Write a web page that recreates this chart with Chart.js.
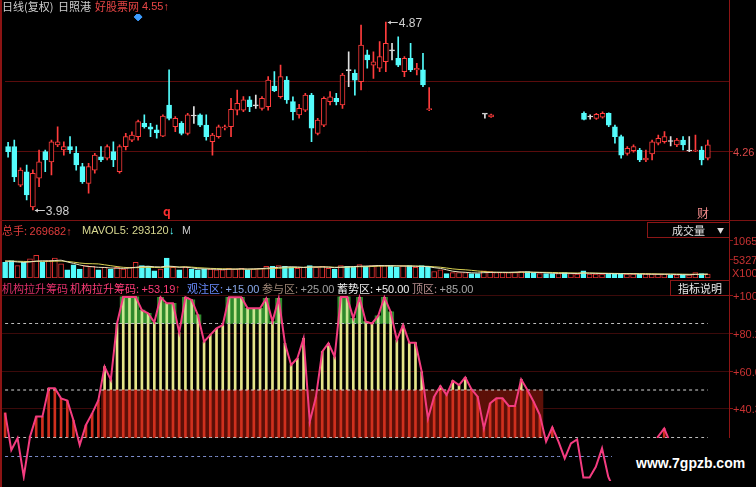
<!DOCTYPE html>
<html><head><meta charset="utf-8">
<script src="https://cdn.jsdelivr.net/npm/chart.js@4.4.1/dist/chart.umd.min.js"></script>
<style>
html,body{margin:0;padding:0;background:#000;width:756px;height:487px;overflow:hidden;}
#wrap{position:relative;width:756px;height:487px;background:#000;overflow:hidden;}
canvas{position:absolute;left:0;top:0;}
.t{position:absolute;white-space:nowrap;font-size:11px;font-family:"Noto Sans CJK SC","Liberation Sans",sans-serif;line-height:12px;}
.n{font-family:"Liberation Sans",Arial,sans-serif;}
.box{position:absolute;border:1px solid #8c1616;box-sizing:border-box;}
</style></head><body>
<div id="wrap">
<canvas id="cPrice" width="756" height="487"></canvas>
<canvas id="cVol" width="756" height="487"></canvas>
<canvas id="cInd" width="756" height="487"></canvas>

<div style="position:absolute;left:0;top:0;width:2px;height:487px;background:#8c1414"></div>
<div style="position:absolute;left:729px;top:0;width:1px;height:438px;background:#8c1414"></div>
<div style="position:absolute;left:0;top:220px;width:756px;height:1px;background:#7a1212"></div>

<div class="t" style="left:2px;top:0px;color:#cfcfcf">日线(复权)</div>
<div class="t" style="left:58px;top:0px;color:#cfcfcf">日照港</div>
<div class="t" style="left:95px;top:0px;color:#e84646">好股票网</div>
<div class="t n" style="left:142px;top:0px;color:#e84646">4.55↑</div>

<div class="t" style="left:163px;top:205px;color:#ff3030;font-weight:bold;font-size:12px">q</div>
<div class="t" style="left:697px;top:207px;color:#f08a8a;font-size:12px">财</div>

<div class="t" style="left:2px;top:224px;color:#e03c3c">总手: <span class="n">269682↑</span></div>
<div class="t n" style="left:82px;top:224px;color:#d8d890">MAVOL5: 293120</div>
<div class="t n" style="left:169px;top:224px;color:#54fcfc">↓</div>
<div class="t n" style="left:182px;top:224px;color:#d0d0d0;width:8px;overflow:hidden">MA</div>

<div class="box" style="left:647px;top:222px;width:83px;height:16px"></div>
<div class="t" style="left:672px;top:224px;color:#e0e0e0">成交量</div>
<div class="t" style="left:717px;top:226px;color:#e0e0e0;font-size:7px;line-height:8px">▼</div>
<div class="t n" style="left:732px;top:267px;color:#c83232">X100</div>

<div class="t" style="left:2px;top:282px;color:#e0306a">机构拉升筹码</div>
<div class="t" style="left:70px;top:282px;color:#ff3c78">机构拉升筹码: <span class="n">+53.19</span></div>
<div class="t n" style="left:175px;top:282px;color:#ff3030">↑</div>
<div class="t" style="left:187px;top:282px;color:#6a8cff">观注区: <span class="n" style="color:#88a8e8">+15.00</span></div>
<div class="t" style="left:262px;top:282px;color:#a08878">参与区: <span class="n" style="color:#a0a0a0">+25.00</span></div>
<div class="t" style="left:337px;top:282px;color:#f0f0f0">蓄势区: <span class="n">+50.00</span></div>
<div class="t" style="left:412px;top:282px;color:#b89090">顶区: <span class="n" style="color:#a8a8a8">+85.00</span></div>

<div class="box" style="left:670px;top:280px;width:60px;height:16px"></div>
<div class="t" style="left:678px;top:282px;color:#e8e8e8">指标说明</div>

<div style="position:absolute;left:612px;top:438px;width:144px;height:49px;background:#000"></div>
<div class="t n" style="left:636px;top:456px;color:#ffffff;font-weight:bold;font-size:14px;line-height:15px">www.7gpzb.com</div>
</div>

<script>
// ---------- DATA ----------
const days = Array.from({length:117}, (_, i) => String(i + 1));

const open  = [4.28,4.28,4.098,4.161,3.995,4.13,4.256,4.208,4.288,4.264,
 4.28,4.248,4.185,4.106,4.169,4.232,4.225,4.256,4.161,4.28,
 4.311,4.327,4.39,4.374,4.359,4.33,4.477,4.374,4.39,4.343,
 4.425,4.43,4.382,4.303,4.327,4.368,4.374,4.453,4.453,4.501,
 4.473,4.461,4.469,4.567,4.516,4.595,4.493,4.43,4.453,4.524,
 4.343,4.382,4.493,4.509,4.477,4.64,4.627,4.587,4.714,4.666,
 4.651,4.682,4.733,4.698,4.635,4.698,4.643,4.643,4.455,null,
 null,null,null,null,null,null,null,4.434,4.42,null,
 null,null,null,null,null,null,null,null,null,null,
 null,null,null,4.438,4.42,4.414,4.419,4.438,4.374,4.327,
 4.248,4.261,4.264,4.217,4.245,4.296,4.303,4.304,4.288,4.311,
 4.259,4.259,4.264,4.225];
const high  = [4.30,4.311,4.18,4.193,4.17,4.264,4.264,4.311,4.374,4.303,
 4.327,4.28,4.201,4.201,4.248,4.28,4.288,4.303,4.288,4.343,
 4.35,4.406,4.43,4.39,4.382,4.43,4.643,4.422,4.398,4.438,
 4.469,4.435,4.43,4.343,4.382,4.382,4.509,4.548,4.517,4.517,
 4.524,4.517,4.611,4.635,4.666,4.611,4.516,4.48,4.532,4.532,
 4.414,4.516,4.54,4.532,4.627,4.729,4.643,4.856,4.737,4.729,
 4.777,4.87,4.769,4.80,4.706,4.769,4.674,4.722,4.56,null,
 null,null,null,null,null,null,null,4.434,4.434,null,
 null,null,null,null,null,null,null,null,null,null,
 null,null,null,4.445,4.43,4.438,4.445,4.44,4.382,4.335,
 4.28,4.288,4.272,4.264,4.311,4.335,4.351,4.327,4.319,4.327,
 4.327,4.335,4.28,4.311];
const low   = [4.23,4.114,4.09,4.027,3.98,4.09,4.161,4.146,4.28,4.24,
 4.248,4.169,4.106,4.059,4.154,4.209,4.217,4.185,4.154,4.264,
 4.303,4.311,4.367,4.327,4.32,4.327,4.406,4.351,4.335,4.335,
 4.39,4.374,4.311,4.24,4.32,4.359,4.327,4.43,4.445,4.445,
 4.461,4.453,4.453,4.54,4.509,4.485,4.406,4.415,4.445,4.303,
 4.335,4.374,4.477,4.477,4.461,4.564,4.524,4.548,4.651,4.603,
 4.635,4.635,4.69,4.658,4.611,4.635,4.619,4.564,4.45,null,
 null,null,null,null,null,null,null,4.415,4.418,null,
 null,null,null,null,null,null,null,null,null,null,
 null,null,null,4.406,4.41,4.409,4.415,4.374,4.296,4.225,
 4.24,4.254,4.209,4.209,4.217,4.288,4.296,4.283,4.28,4.264,
 4.256,4.256,4.193,4.217];
const close = [4.256,4.137,4.169,4.051,4.154,4.208,4.217,4.303,4.303,4.28,
 4.264,4.193,4.114,4.185,4.24,4.217,4.28,4.217,4.28,4.327,
 4.335,4.398,4.374,4.362,4.346,4.425,4.414,4.414,4.343,4.43,
 4.425,4.382,4.327,4.335,4.374,4.374,4.457,4.485,4.501,4.469,
 4.473,4.509,4.595,4.545,4.611,4.501,4.445,4.461,4.524,4.367,
 4.406,4.509,4.516,4.493,4.619,4.64,4.595,4.761,4.69,4.682,
 4.706,4.769,4.733,4.666,4.698,4.643,4.651,4.572,4.46,null,
 null,null,null,null,null,null,null,4.434,4.43,null,
 null,null,null,null,null,null,null,null,null,null,
 null,null,null,4.409,4.42,4.433,4.438,4.382,4.327,4.24,
 4.272,4.28,4.217,4.226,4.303,4.319,4.327,4.304,4.311,4.288,
 4.259,4.264,4.217,4.288];

// volume in units of 100 lots (X100)
const volume = [4406,4896,3456,4406,5386,6336,4406,4896,5558,3946,
 2304,3658,2506,3456,3254,2304,2966,2506,2966,2506,
 2966,4406,3456,3254,2016,2506,5558,2966,2304,2966,
 2506,2304,2506,2506,2304,2304,2678,2506,2678,2304,
 2506,2678,3254,3254,3456,3254,3000,2678,2966,3456,
 2966,3254,2678,2506,3456,3254,3000,3746,3254,3456,
 3456,3456,3456,2966,3456,3456,2966,3456,3100,1814,
 2300,1238,1526,1526,1526,1238,1238,2016,1814,1526,
 1526,1526,1526,1814,1814,1526,1238,1238,1238,1238,
 1526,1238,1066,2016,1066,1066,1066,1238,1238,1238,
 1066,1066,1066,1066,1066,1066,1066,864,864,864,
 864,1526,1238,1066];
const volDir = "dduduuduuu" + "ddduududuu" + "uudddududu" + "ddduuuuuud" + "uuududduud" +
  "uuududdudu" + "uuddududdu" + "uduuudduuu" + "uuuudduddu" + "duuduuuddd" + "uuduuuudud" + "uudu";
const mavol5 = [4700,4650,4500,4400,4500,4750,4800,4800,4900,5000,
 4500,4100,3650,3300,3150,3000,2950,2800,2750,2700,
 2800,3000,3200,3300,3150,3100,3350,3250,3000,3050,
 2850,2600,2550,2500,2450,2400,2450,2500,2550,2500,
 2550,2600,2750,2850,3000,3100,3150,3100,2950,3100,
 3100,3100,3050,2900,3050,3100,3200,3300,3350,3400,
 3500,3450,3450,3400,3350,3350,3300,3250,3200,2900,
 2700,2300,1900,1700,1600,1450,1400,1500,1550,1600,
 1620,1600,1650,1700,1700,1600,1550,1450,1350,1300,
 1330,1300,1250,1400,1350,1300,1250,1250,1200,1200,
 1180,1150,1120,1080,1060,1060,1060,1050,990,930,
 900,1000,1050,1100];
const mavol10 = [4800,4750,4700,4650,4600,4650,4700,4650,4700,4750,
 4650,4450,4200,4050,4000,3950,3700,3450,3200,3000,
 2900,2900,2950,3000,2950,2900,3050,3100,3100,3150,
 3050,2900,2800,2700,2650,2600,2550,2500,2500,2470,
 2480,2520,2580,2650,2730,2830,2900,2950,3000,3050,
 3080,3100,3100,3020,3000,3070,3130,3180,3170,3220,
 3300,3350,3380,3380,3380,3380,3350,3300,3280,3150,
 3020,2800,2550,2400,2300,2150,1960,1820,1680,1600,
 1530,1500,1550,1600,1620,1610,1600,1580,1550,1500,
 1460,1420,1400,1420,1400,1380,1350,1320,1290,1260,
 1250,1250,1230,1220,1180,1140,1100,1100,1100,1080,
 1040,1050,1030,1040];

// 机构拉升筹码 indicator
const signal = [38,18.4,24.7,4.4,25.4,36,36,50.9,50.9,45.6,
 44.4,34,21,31.6,37.7,44.7,62.3,55.3,85,99,
 99,99,92,90.4,85.6,98.8,95.6,95.6,80.2,98.8,
 97.4,89.5,75.4,79,82.5,84.2,98.8,98.8,98.8,93,
 93,93,98.2,86,98.2,74.6,63.2,66.7,77.2,33.3,
 46.5,70.2,74.6,67.5,99,99,87.7,98.8,86,85,
 89,98.8,91.2,76.3,84.2,74.9,74.9,59.6,35,46.5,
 52.1,47.4,54.9,52.6,56.7,50.4,46.5,29.8,43,45.6,
 45.6,41.6,41.6,55.6,50,43.8,36.8,22.8,30.4,22.8,
 14,21.9,24,4,4,9.6,19.3,4.4,-3,-6,
 -4,-8,-5,-2,12,25.4,29.8,22,-2,-6,
 -4,-7,-3,-5];
const accumZone = "0000000000000000" + "1".repeat(71) + "0".repeat(27);
const zoneLevels = [15, 25, 50, 85];   // 观注区 参与区 蓄势区 顶区

const priceGrid = [4.59, 4.26];
const priceTicks = [4.26];
const volTicks = [10654, 5327];
const volTickLabels = ['1065', '5327'];
const indTicks = [100, 80.2, 60.0, 40.3];
const indTickLabels = ['+100', '+80.2', '+60.0', '+40.3'];
const highMark = {index: 61, label: '4.87'};
const lowMark = {index: 4, label: '3.98'};
const diamondIdx = 21, diamondPrice = 4.894;

// ---------- STYLE ----------
const RED = '#ff3c3c', CYAN = '#54fcfc', FLAT = '#e0e0e0', AXR = '#c83232';
const NUMFONT = '11px "Liberation Sans", Arial, sans-serif';
function dirOf(i){ if (open[i] == null) return null; return close[i] > open[i] ? 'u' : (close[i] < open[i] ? 'd' : 'f'); }
const dirs = open.map((_, i) => dirOf(i));
const baseOpts = (pad, ymin, ymax) => ({
  responsive:false, animation:false, events:[],
  layout:{padding:{left:2, right:756-729.5, top:pad[0], bottom:487-pad[1]}},
  plugins:{legend:{display:false}, tooltip:{enabled:false}},
  scales:{
    x:{type:'category', display:false, offset:true, grid:{display:false}},
    y:{type:'linear', display:false, min:ymin, max:ymax}
  }
});
function axisPlugin(id, gridVals, gridColor, tickVals, tickLabels, labelColor){
  return {
    id,
    beforeDatasetsDraw(chart){
      const ctx = chart.ctx, ys = chart.scales.y, a = chart.chartArea;
      ctx.save(); ctx.strokeStyle = gridColor; ctx.lineWidth = 1;
      gridVals.forEach(v => { const py = Math.round(ys.getPixelForValue(v)) + 0.5;
        ctx.beginPath(); ctx.moveTo(a.left, py); ctx.lineTo(a.right, py); ctx.stroke(); });
      ctx.restore();
    },
    afterDraw(chart){
      const ctx = chart.ctx, ys = chart.scales.y;
      ctx.save(); ctx.font = NUMFONT; ctx.fillStyle = labelColor; ctx.strokeStyle = '#8c1414';
      ctx.textBaseline = 'middle'; ctx.textAlign = 'left';
      tickVals.forEach((v, k) => { const py = Math.round(ys.getPixelForValue(v)) + 0.5;
        ctx.beginPath(); ctx.moveTo(729.5, py); ctx.lineTo(733, py); ctx.stroke();
        ctx.fillText(tickLabels[k], 733, py + 1); });
      ctx.restore();
    }
  };
}

// ---------- PRICE ----------
const extremes = {
  id:'extremes',
  afterDatasetsDraw(chart){
    const ctx = chart.ctx, xs = chart.scales.x, ys = chart.scales.y;
    ctx.save(); ctx.strokeStyle = '#d0d0d0'; ctx.fillStyle = '#d0d0d0'; ctx.lineWidth = 1;
    ctx.font = '12px "Liberation Sans", Arial, sans-serif'; ctx.textBaseline = 'middle';
    [[highMark, high], [lowMark, low]].forEach(([m, arr]) => {
      const x = xs.getPixelForValue(m.index) + 2, y = Math.round(ys.getPixelForValue(arr[m.index])) + 0.5;
      ctx.beginPath(); ctx.moveTo(x, y); ctx.lineTo(x + 10, y); ctx.stroke();
      ctx.beginPath(); ctx.moveTo(x, y); ctx.lineTo(x + 3, y - 2); ctx.lineTo(x + 3, y + 2); ctx.closePath(); ctx.fill();
      ctx.fillText(m.label, x + 11, y + 1);
    });
    ctx.restore();
  }
};
new Chart(document.getElementById('cPrice'), {
  type:'bar',
  data:{labels:days, datasets:[
    {type:'line', data:days.map((_, i) => i === diamondIdx ? diamondPrice : null), showLine:false,
     pointStyle:'rectRot', pointRadius:4, pointBackgroundColor:'#3c9cff', pointBorderColor:'#3c9cff', order:0},
    {data:open.map((o, i) => o == null ? null : [o, close[i]]), grouped:false, barThickness:5, minBarLength:1,
     borderSkipped:false, borderWidth:1,
     backgroundColor:dirs.map(d => d === 'u' ? '#000' : d === 'd' ? CYAN : FLAT),
     borderColor:dirs.map(d => d === 'u' ? RED : d === 'd' ? CYAN : FLAT), order:1},
    {data:low.map((l, i) => l == null ? null : [l, high[i]]), grouped:false, barThickness:1, borderWidth:0,
     backgroundColor:dirs.map(d => d === 'u' ? RED : d === 'd' ? CYAN : FLAT), order:2}
  ]},
  options:baseOpts([14, 220], 3.9325, 4.9079),
  plugins:[axisPlugin('pax', priceGrid, '#5a0c0c', priceTicks, priceTicks.map(v => v.toFixed(2)), '#d84848'), extremes]
});

// ---------- VOLUME ----------
new Chart(document.getElementById('cVol'), {
  type:'bar',
  data:{labels:days, datasets:[
    {type:'line', data:mavol5, borderColor:'#e8e4c0', borderWidth:1, pointRadius:0, tension:0, order:0},
    {type:'line', data:mavol10, borderColor:'#d8d050', borderWidth:1, pointRadius:0, tension:0, order:0},
    {data:volume, grouped:false, barThickness:5, borderWidth:1, borderSkipped:false,
     backgroundColor:volume.map((_, i) => volDir[i] === 'u' ? '#000' : CYAN),
     borderColor:volume.map((_, i) => volDir[i] === 'u' ? '#e03030' : CYAN), order:1}
  ]},
  options:baseOpts([240, 278], 0, 10654),
  plugins:[axisPlugin('vax', [], '#5a0c0c', volTicks, volTickLabels, AXR)]
});

// ---------- INDICATOR ----------
const ymin = 100 - (481 - 295) / 1.9, ymax = 100 + (295 - 282) / 1.9;
const redBars = signal.map(v => v > zoneLevels[1] ? [zoneLevels[1], Math.min(v, zoneLevels[2])] : null);
const yelBars = signal.map(v => v > zoneLevels[2] ? [zoneLevels[2], Math.min(v, zoneLevels[3])] : null);
const topBars = signal.map(v => v > zoneLevels[3] ? [zoneLevels[3], v] : null);
const zoneFill = signal.map((_, i) => accumZone[i] === '1' ? [zoneLevels[1], zoneLevels[2]] : null);
const levelColors = ['#7f90d0', '#bdbdbd', '#d8d8d8', '#bdbdbd'];
const levelSets = zoneLevels.map((lv, k) => ({type:'line', data:signal.map(() => lv), borderColor:levelColors[k],
  borderWidth:1, borderDash:[3,3], pointRadius:0, order:1}));
new Chart(document.getElementById('cInd'), {
  type:'bar',
  data:{labels:days, datasets:[
    {type:'line', data:signal, borderColor:'#f43c80', borderWidth:2, pointRadius:0, tension:0, order:0},
    ...levelSets,
    {data:topBars, grouped:false, barThickness:2, backgroundColor:'#c8e890', order:2},
    {data:redBars, grouped:false, barThickness:2, backgroundColor:'#d0301e', order:3},
    {data:yelBars, grouped:false, barThickness:2, backgroundColor:'#e4e488', order:3},
    {data:topBars, grouped:false, barPercentage:1, categoryPercentage:1, backgroundColor:'#2f8a2c', order:4},
    {data:zoneFill, grouped:false, barPercentage:1, categoryPercentage:1, backgroundColor:'#5c1008', order:5}
  ]},
  options:baseOpts([282, 481], ymin, ymax),
  plugins:[axisPlugin('iax', indTicks, '#3c0a0a', indTicks, indTickLabels, AXR)]
});
</script>
</body></html>
